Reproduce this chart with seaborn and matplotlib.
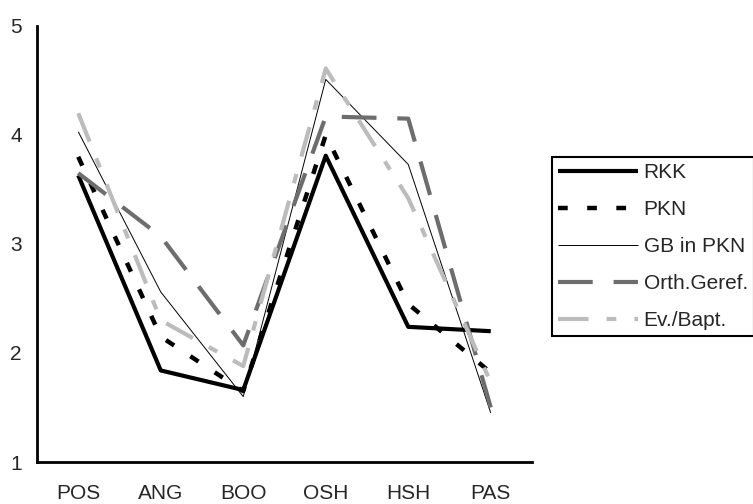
import pandas as pd
import matplotlib
matplotlib.use('Agg')
import matplotlib.pyplot as plt
import seaborn as sns

# Values
categories = ['POS', 'ANG', 'BOO', 'OSH', 'HSH', 'PAS']
rkk = [3.63, 1.84, 1.66, 3.81, 2.24, 2.20]
pkn = [3.80, 2.15, 1.65, 4.00, 2.45, 1.82]
gb_in_pkn = [4.03, 2.56, 1.60, 4.51, 3.73, 1.45]
orth_geref = [3.65, 3.07, 2.07, 4.17, 4.15, 1.50]
ev_bapt = [4.20, 2.30, 1.88, 4.61, 3.42, 1.73]

series_names = ['RKK', 'PKN', 'GB in PKN', 'Orth.Geref.', 'Ev./Bapt.']
series_values = [rkk, pkn, gb_in_pkn, orth_geref, ev_bapt]

rows = []
for name, vals in zip(series_names, series_values):
    for i, (cat, v) in enumerate(zip(categories, vals)):
        rows.append({'pos': i, 'cat': cat, 'value': v, 'series': name})
df = pd.DataFrame(rows)

sns.set_theme(style='white')
plt.rcParams['font.family'] = ['Liberation Sans', 'DejaVu Sans']
plt.rcParams['lines.scale_dashes'] = False

palette = {'RKK': '#000000', 'PKN': '#000000', 'GB in PKN': '#000000',
           'Orth.Geref.': '#6d6d6d', 'Ev./Bapt.': '#bcbcbc'}
sizes = {'RKK': 3.0, 'PKN': 3.2, 'GB in PKN': 0.7,
         'Orth.Geref.': 3.0, 'Ev./Bapt.': 3.0}
dashes = {'RKK': '', 'PKN': (7, 14), 'GB in PKN': '',
          'Orth.Geref.': (25, 15), 'Ev./Bapt.': (22, 13, 7, 13)}

fig = plt.figure(figsize=(7.53, 5.04), dpi=100)
ax = fig.add_axes([37 / 753, 42 / 504, 495 / 753, 436 / 504])

sns.lineplot(data=df, x='pos', y='value', hue='series', style='series',
             size='series', palette=palette, sizes=sizes, dashes=dashes,
             hue_order=series_names, style_order=series_names,
             size_order=series_names, sort=False, legend=False, ax=ax)

for line in ax.get_lines():
    line.set_dash_capstyle('butt')
    line.set_solid_capstyle('butt')

ax.set_xlim(-0.5, 5.5)
ax.set_ylim(1, 5)
ax.set_xticks(range(len(categories)))
ax.set_xticklabels(categories)
ax.set_yticks([1, 2, 3, 4, 5])
ax.set_xlabel('')
ax.set_ylabel('')
ax.tick_params(axis='x', length=0, pad=16, labelsize=15)
ax.tick_params(axis='y', length=0, pad=11, labelsize=15)
for side in ['top', 'right']:
    ax.spines[side].set_visible(False)
for side in ['left', 'bottom']:
    ax.spines[side].set_color('black')
    ax.spines[side].set_linewidth(2)

leg = ax.legend(ax.get_lines(), series_names, loc='upper left',
                bbox_to_anchor=(552 / 753, 347 / 504),
                bbox_transform=fig.transFigure, fontsize=15,
                frameon=True, fancybox=False, framealpha=1,
                handlelength=3.85, handletextpad=0.25,
                labelspacing=0.86, borderpad=0.3, borderaxespad=0)
leg.get_frame().set_edgecolor('black')
leg.get_frame().set_linewidth(1.5)

fig.savefig('out.png', dpi=100)
